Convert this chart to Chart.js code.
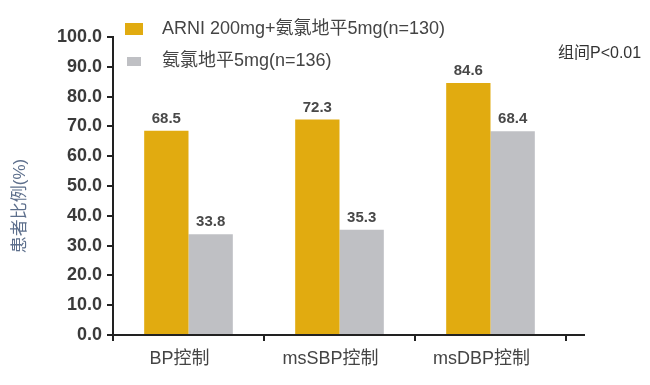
<!DOCTYPE html>
<html lang="zh">
<head>
<meta charset="UTF-8">
<title>患者比例</title>
<script src="https://cdn.jsdelivr.net/npm/chart.js@4.4.1/dist/chart.umd.min.js"></script>
<style>
  html, body { margin: 0; padding: 0; background: #fff; }
  #wrap { width: 650px; height: 385px; position: relative; }
</style>
</head>
<body>
<div id="wrap"><canvas id="myChart"></canvas></div>
<script>
const categories = ['BP控制', 'msSBP控制', 'msDBP控制'];
const seriesNames = ['ARNI 200mg+氨氯地平5mg(n=130)', '氨氯地平5mg(n=136)'];
const arniValues = [68.5, 72.3, 84.6];
const amlodipineValues = [33.8, 35.3, 68.4];
const yTicks = [0, 10, 20, 30, 40, 50, 60, 70, 80, 90, 100];
const yTitle = '患者比例(%)';
const note = '组间P<0.01';

const FONT = '"Liberation Sans", "Noto Sans CJK SC", sans-serif';

// value labels, legend, note, y title and the axis line tail
const extras = {
  id: 'extras',
  afterDatasetsDraw(chart) {
    const ctx = chart.ctx;
    ctx.save();
    ctx.font = 'bold 15px ' + FONT;
    ctx.fillStyle = '#484848';
    ctx.textAlign = 'center';
    ctx.textBaseline = 'alphabetic';
    chart.data.datasets.forEach((ds, i) => {
      chart.getDatasetMeta(i).data.forEach((bar, j) => {
        ctx.fillText(ds.data[j].toFixed(1), bar.x, bar.y - 8);
      });
    });

    // legend
    ctx.textAlign = 'left';
    ctx.textBaseline = 'middle';
    ctx.font = '18px ' + FONT;
    const boxes = [[125, 23, 18, 12], [127, 57, 14, 9]];
    const rows = [29, 61];
    chart.data.datasets.forEach((ds, i) => {
      ctx.fillStyle = ds.backgroundColor;
      ctx.fillRect(...boxes[i]);
      ctx.fillStyle = '#444';
      ctx.fillText(ds.label, 162, rows[i]);
    });

    ctx.font = '16px ' + FONT;
    ctx.fillStyle = '#333';
    ctx.fillText(note, 558, 54);

    // y axis title
    ctx.save();
    ctx.translate(20, 206);
    ctx.rotate(-Math.PI / 2);
    ctx.textAlign = 'center';
    ctx.font = '17px ' + FONT;
    ctx.fillStyle = '#5d6f8c';
    ctx.fillText(yTitle, 0, 0);
    ctx.restore();

    // x axis line continues a little past the last category
    const a = chart.chartArea;
    ctx.strokeStyle = '#222';
    ctx.lineWidth = 2;
    ctx.beginPath();
    ctx.moveTo(a.right - 1, a.bottom);
    ctx.lineTo(585, a.bottom);
    ctx.stroke();
    ctx.restore();
  }
};

new Chart(document.getElementById('myChart'), {
  type: 'bar',
  data: {
    labels: categories,
    datasets: [
      { label: seriesNames[0], data: arniValues, backgroundColor: '#E1AB10' },
      { label: seriesNames[1], data: amlodipineValues, backgroundColor: '#BFC0C4' }
    ]
  },
  options: {
    responsive: true,
    maintainAspectRatio: false,
    animation: false,
    categoryPercentage: 0.587,
    barPercentage: 1.0,
    layout: { padding: { top: 37, right: 84, left: 0, bottom: 0 } },
    plugins: {
      legend: { display: false },
      tooltip: { enabled: false }
    },
    scales: {
      x: {
        afterFit(scale) { scale.height = 50; },
        border: { color: '#222', width: 2 },
        grid: { offset: true, drawOnChartArea: false, drawTicks: true, tickLength: 6, tickColor: '#222', lineWidth: 2 },
        ticks: { color: '#444', font: { family: FONT, size: 18 }, padding: 7, labelOffset: -9 }
      },
      y: {
        min: 0,
        max: 100,
        afterFit(scale) { scale.width = 113; },
        afterBuildTicks(scale) { scale.ticks = yTicks.map(v => ({ value: v })); },
        border: { color: '#222', width: 2 },
        grid: { drawOnChartArea: false, drawTicks: true, tickLength: 6, tickColor: '#222', lineWidth: 2 },
        ticks: {
          color: '#3a3a3a',
          font: { family: FONT, size: 18, weight: 'bold' },
          padding: 5,
          callback: v => Number(v).toFixed(1)
        }
      }
    }
  },
  plugins: [extras]
});
</script>
</body>
</html>
